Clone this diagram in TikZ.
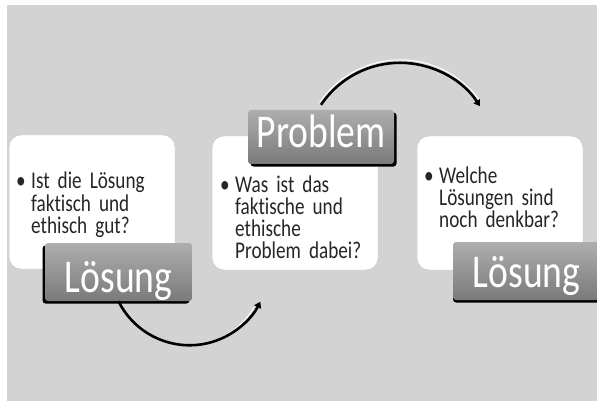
\documentclass[tikz,border=0pt]{standalone}
\usepackage{fontspec}
\setmainfont{Carlito}
\newfontfamily\bodyfont[FakeStretch=0.8, Ligatures={NoCommon}]{Carlito}
\usetikzlibrary{shadows}
\usetikzlibrary{arrows.meta}
\definecolor{bggray}{HTML}{D3D3D3}
\definecolor{lbltop}{HTML}{AEAEAE}
\definecolor{lblbot}{HTML}{7A7A7A}
\newcommand{\bul}{\makebox[15pt][l]{\textbullet}}
\newcommand{\ind}{\hspace*{15pt}}

\begin{document}
\begin{tikzpicture}[x=1pt, y=-1pt]
			\tikzstyle{card}=[rounded corners=12pt, fill=white, draw=black!20, line width=0.5pt, minimum width=166pt, minimum height=134pt, inner sep=0pt]
			\tikzstyle{txt} = [anchor=base west, inner sep=0pt, text width=165pt, align=left, font=\bodyfont\fontsize{24}{22.3}\selectfont, text=black!85]
			\tikzstyle{tag} = [rounded corners=3pt, top color=lbltop, bottom color=lblbot, minimum width=147pt, inner sep=0pt, text=white, font=\bodyfont\fontsize{47}{47}\selectfont]
			\tikzstyle{cyc} = [line width=2.6pt, black, -{Triangle[length=6pt,width=7.5pt]}]
			\tikzstyle{glint} = [line width=1pt, white]

			% Background
			\useasboundingbox (0,0) rectangle (597,401);
			\fill[white] (0,0) rectangle (597,401);
			\fill[bggray] (7,5) rectangle (597,401);

			% Draw cards
			\node[card] (card1) at (92,202) {};
			\node[card] (card2) at (295,203) {};
			\node[card] (card3) at (500,203) {};

			% Draw texts
			\node[txt] (txt1) at (16,189) {\bul Ist die Lösung\\\ind faktisch und\\\ind ethisch gut?};
			\node[txt] (txt2) at (220,192) {\bul Was ist das\\\ind faktische und\\\ind ethische\\\ind Problem dabei?};
			\node[txt] (txt3) at (424,183) {\bul Welche\\\ind Lösungen sind\\\ind noch denkbar?};

			% Draw tags
			\node[tag, text height=49pt, text depth=9pt, drop shadow={shadow xshift=-2.5pt, shadow yshift=-2.5pt, fill=black, opacity=1}] (tag1) at (118.5,272) {Lösung};
			\node[tag, minimum width=146pt, text height=38pt, text depth=16pt, drop shadow={shadow xshift=2.5pt, shadow yshift=-2.5pt, fill=black, opacity=1}] (tag2) at (321,137) {Problem};
			\node[tag, text height=45pt, text depth=13pt, drop shadow={shadow xshift=0pt, shadow yshift=-2.5pt, fill=black, opacity=1}] (tag3) at (526.5,271) {Lösung};

			% Draw arrows
			\draw[glint] ([xshift=1.5pt, yshift=-2pt]tag1.south) arc[start angle=153.6, end angle=30, radius=76];
			\draw[cyc] (tag1.south) arc[start angle=153.6, end angle=26.8, radius=79.3];
			\draw[glint] ([xshift=-1.5pt, yshift=2pt]tag2.north) ++(0,-5) arc[start angle=-146, end angle=-36, radius=97.5];
			\draw[cyc] ([yshift=5pt]tag2.north) arc[start angle=-146, end angle=-33, radius=95.3];

		\end{tikzpicture}
\end{document}
